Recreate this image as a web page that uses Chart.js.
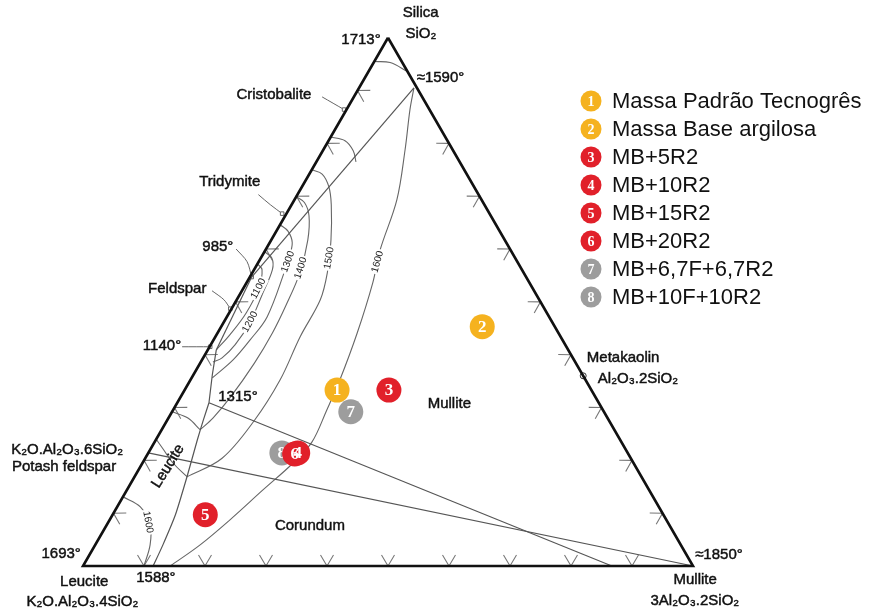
<!DOCTYPE html>
<html>
<head>
<meta charset="utf-8">
<script src="https://cdn.jsdelivr.net/npm/chart.js@4.4.0/dist/chart.umd.min.js"></script>
<style>
    body { margin: 0; background: #fff; }
    #wrap { width: 878px; height: 615px; }
</style>
</head>
<body>
<div id="wrap"><canvas id="diagram"></canvas></div>
<script>
// every point is a composition [SiO2 %, mullite %], leucite is the rest
var triangle = [[100, 0], [0, 0], [0, 100], [100, 0]];

// field boundaries
var silicaMullite = [[90.5, 9.0], [54.7, 0.3]];
var feldsparMullite = [[54.7, 0.3], [40.9, 1.4]];
var leuciteMullite = [[40.9, 1.4], [36.2, 3.1], [30.9, 5.2]];
var leuciteCorundum = [[30.9, 5.2], [27.7, 5.9], [23.9, 6.8], [16.9, 8.6], [9.7, 10.3], [4.0, 11.1], [0, 11.5]];
var corundumLine = [[30.9, 5.2], [0, 86.7]];
var feldsparJoin = [[21.4, 0], [0, 100]];

// isotherms
var topArc = [[95.5, 0], [95.3, 2.7], [93.6, 6.4]];
var cristobaliteArc = [[81.2, 0], [80.5, 2.7], [78.6, 5.0], [76.5, 6.5]];
var iso1600 = [[90.5, 9.0], [86.4, 10.4], [78.8, 13.4], [69.3, 16.8], [59.8, 18.8], [53.6, 20.7], [44.1, 22.9], [35.2, 24.5], [29.5, 25.2], [23.5, 25.8], [19.5, 24.7], [14.4, 22.3], [8.7, 19.7], [4.0, 17.2], [0, 14.3]];
var iso1600Leucite = [[13.1, 0], [11.2, 3.8], [7.8, 7.1], [4.0, 9.0], [0, 10.0]];
var iso1500 = [[75.0, 0], [74.2, 2.1], [71.8, 4.4], [68.4, 6.5], [61.7, 9.8], [55.5, 12.3], [50.4, 13.7], [43.4, 13.9], [35.2, 14.7], [27.4, 14.3], [20.4, 12.6], [16.9, 8.6]];
var iso1500Leucite = [[16.9, 8.6], [19.5, 5.0], [22.2, 2.0], [24.0, 0]];
var iso1400 = [[69.9, 0], [68.8, 1.9], [66.3, 3.9], [61.7, 6.0], [55.5, 7.8], [49.4, 8.6], [44.1, 9.0], [38.4, 8.9], [32.0, 8.2], [28.0, 7.3], [25.8, 6.3]];
var iso1400Leucite = [[25.8, 6.3], [28.0, 3.2], [29.2, 0]];
var iso1300 = [[64.6, 0], [63.4, 1.9], [61.2, 3.7], [58.3, 4.6], [56.1, 5.1], [47.2, 6.6], [42.8, 6.0], [39.0, 5.1], [35.6, 3.4]];
var iso1200 = [[59.5, 0], [58.3, 1.8], [56.1, 3.0], [51.3, 3.7], [46.2, 4.3], [41.9, 4.0], [39.4, 3.1], [38.6, 2.0]];
var iso1100 = [[57.2, 0], [56.1, 1.3], [52.7, 2.5], [47.9, 2.8], [43.8, 2.2], [40.9, 1.4]];

// pointer lines from the outside labels
var cristobalitePointer = [[88.8, -5.2], [86.4, -0.4]];
var tridymitePointer = [[70.3, -6.4], [68.4, -3.5], [66.7, -0.7]];
var eutecticPointer = [[60.0, -4.9], [57.6, -1.9], [54.7, 0.3]];
var feldsparPointer = [[52.1, -4.9], [50.4, -2.1], [48.7, -0.2]];
var pointer1140 = [[41.5, -4.5], [41.5, 0.1]];
var metakaolin = [[36.0, 64.0]];

// tick marks along the edges, % along each edge
var edgeTicks = [10, 20, 30, 40, 50, 60, 70, 80, 90];

// samples
var sampleNames = ['Massa Padrão Tecnogrês', 'Massa Base argilosa', 'MB+5R2', 'MB+10R2', 'MB+15R2', 'MB+20R2', 'MB+6,7F+6,7R2', 'MB+10F+10R2'];
var sampleSilica = [33.3, 45.3, 33.3, 21.4, 9.7, 21.2, 29.2, 21.4];
var sampleMullite = [25.0, 42.8, 33.5, 24.5, 15.2, 24.1, 29.3, 21.9];
var sampleGroup = ['base', 'base', 'R2', 'R2', 'R2', 'R2', 'FR2', 'FR2'];
var groupColours = { base: '#f5b21f', R2: '#e1202a', FR2: '#9d9d9d' };

var isoLabels = [
    ['1600', [57.6, 19.5], -74], ['1500', [58.3, 11.2], -80], ['1400', [56.4, 7.5], -72],
    ['1300', [57.6, 4.8], -70], ['1200', [46.2, 4.3], -62], ['1100', [52.5, 2.5], -62],
    ['1600', [8.3, 6.5], 80]
];

var labels = [
    ['Silica', [104.7, 3.0], 'center'], ['SiO₂', [100.8, 5.0], 'center'],
    ['1713°', [99.6, -1.0], 'right'], ['≈1590°', [92.4, 8.5], 'left'],
    ['Cristobalite', [89.2, -13.3], 'center'], ['Tridymite', [72.7, -12.3], 'center'],
    ['985°', [60.4, -8.1], 'center'], ['Feldspar', [52.5, -10.8], 'center'],
    ['1140°', [41.7, -7.9], 'center'], ['1315°', [32.0, 9.4], 'center'],
    ['K₂O.Al₂O₃.6SiO₂', [22.0, -13.6], 'center'], ['Potash feldspar', [18.8, -12.5], 'center'],
    ['Mullite', [30.7, 44.7], 'center'], ['Corundum', [7.6, 33.4], 'center'],
    ['1693°', [2.3, -1.5], 'right'], ['1588°', [-2.3, 13.1], 'center'],
    ['Leucite', [-3.0, 1.7], 'center'], ['K₂O.Al₂O₃.4SiO₂', [-6.8, 3.3], 'center'],
    ['Metakaolin', [39.4, 62.9], 'left'], ['Al₂O₃.2SiO₂', [35.4, 66.7], 'left'],
    ['≈1850°', [2.1, 99.3], 'left'], ['Mullite', [-2.7, 101.7], 'center'],
    ['3Al₂O₃.2SiO₂', [-6.6, 103.6], 'center']
];

var H = Math.sqrt(3) / 2;
function toXY(p) {
    return { x: p[1] + p[0] / 2, y: p[0] * H };
}

function lineSet(points, extra) {
    return Object.assign({
        data: points.map(toXY),
        showLine: true,
        pointRadius: 0,
        borderColor: '#555',
        borderWidth: 1.2,
        tension: 0,
        order: 5
    }, extra || {});
}

var curve = { tension: 0.35, borderColor: '#666', borderWidth: 1.1 };

function pointerSet(points) {
    var radii = points.map(function (p, i) { return i == points.length - 1 ? 2.5 : 0; });
    return lineSet(points, {
        borderColor: '#666', borderWidth: 1, tension: 0.3, pointRadius: radii,
        pointStyle: 'rect', pointBackgroundColor: '#fff', pointBorderColor: '#666'
    });
}

function sampleSet(group, order) {
    var pts = [];
    for (var i = 0; i < sampleNames.length; i++) {
        if (sampleGroup[i] == group) {
            var xy = toXY([sampleSilica[i], sampleMullite[i]]);
            pts.push({ x: xy.x, y: xy.y, id: i + 1 });
        }
    }
    return {
        data: pts, isSample: true, pointRadius: 12.5, pointBorderWidth: 0,
        backgroundColor: groupColours[group], order: order
    };
}

var datasets = [
    sampleSet('R2', 0),
    sampleSet('base', 1),
    sampleSet('FR2', 2),
    lineSet(triangle, { borderColor: '#111', borderWidth: 2.6, order: 4 }),
    lineSet(silicaMullite), lineSet(feldsparMullite), lineSet(leuciteMullite),
    lineSet(leuciteCorundum, { tension: 0.2 }), lineSet(corundumLine), lineSet(feldsparJoin),
    lineSet(topArc, curve), lineSet(cristobaliteArc, curve),
    lineSet(iso1600, curve), lineSet(iso1600Leucite, curve),
    lineSet(iso1500, curve), lineSet(iso1500Leucite, curve),
    lineSet(iso1400, curve), lineSet(iso1400Leucite, curve),
    lineSet(iso1300, curve), lineSet(iso1200, curve), lineSet(iso1100, curve),
    pointerSet(cristobalitePointer), pointerSet(tridymitePointer), pointerSet(eutecticPointer),
    pointerSet(feldsparPointer), pointerSet(pointer1140),
    lineSet(metakaolin, { showLine: false, pointRadius: 3, pointBackgroundColor: '#fff', pointBorderColor: '#333', pointBorderWidth: 1 })
];

function pix(chart, p) {
    var xy = toXY(p);
    return { x: chart.scales.x.getPixelForValue(xy.x), y: chart.scales.y.getPixelForValue(xy.y) };
}

var diagramPlugin = {
    id: 'diagramPlugin',
    beforeDatasetsDraw: function (chart) {
        var ctx = chart.ctx;
        ctx.save();
        ctx.strokeStyle = '#777';
        ctx.lineWidth = 1.1;
        // chevrons on the three edges
        var edges = [
            { at: function (f) { return [0, f]; }, n: [0, -1], t: [1, 0], skip: [] },
            { at: function (f) { return [100 - f, f]; }, n: [-0.866, 0.5], t: [0.5, 0.866], skip: [10] },
            { at: function (f) { return [f, 0]; }, n: [0.866, 0.5], t: [0.5, -0.866], skip: [] }
        ];
        edges.forEach(function (e) {
            edgeTicks.forEach(function (f) {
                if (e.skip.indexOf(f) >= 0) return;
                var v = pix(chart, e.at(f));
                ctx.beginPath();
                ctx.moveTo(v.x + 11 * e.n[0] + 6.5 * e.t[0], v.y + 11 * e.n[1] + 6.5 * e.t[1]);
                ctx.lineTo(v.x, v.y);
                ctx.lineTo(v.x + 11 * e.n[0] - 6.5 * e.t[0], v.y + 11 * e.n[1] - 6.5 * e.t[1]);
                ctx.stroke();
            });
        });
        ctx.restore();
    },
    afterDatasetDraw: function (chart, args) {
        var ds = chart.data.datasets[args.index];
        if (!ds.isSample) return;
        var ctx = chart.ctx;
        ctx.save();
        ctx.fillStyle = '#fff';
        ctx.font = 'bold 17px "Liberation Serif", "DejaVu Serif", serif';
        ctx.textAlign = 'center';
        ctx.textBaseline = 'middle';
        args.meta.data.forEach(function (el, j) {
            ctx.fillText(String(ds.data[j].id), el.x, el.y + 1);
        });
        ctx.restore();
    },
    afterDraw: function (chart) {
        var ctx = chart.ctx;
        ctx.save();
        // isotherm temperatures, on a white patch that breaks the curve
        ctx.font = '10px "Liberation Sans", Arial, sans-serif';
        ctx.textAlign = 'center';
        ctx.textBaseline = 'middle';
        isoLabels.forEach(function (l) {
            var p = pix(chart, l[1]);
            ctx.save();
            ctx.translate(p.x, p.y);
            ctx.rotate(l[2] * Math.PI / 180);
            var w = ctx.measureText(l[0]).width;
            ctx.fillStyle = '#fff';
            ctx.fillRect(-w / 2 - 1.5, -5.5, w + 3, 11);
            ctx.fillStyle = '#222';
            ctx.fillText(l[0], 0, 0);
            ctx.restore();
        });

        // names and temperatures, with a hairline stroke so they read as heavy as the scan
        ctx.font = '15px "Liberation Sans", Arial, sans-serif';
        ctx.fillStyle = '#111';
        ctx.strokeStyle = '#111';
        ctx.lineWidth = 0.45;
        labels.forEach(function (l) {
            var p = pix(chart, l[1]);
            ctx.textAlign = l[2];
            ctx.fillText(l[0], p.x, p.y);
            ctx.strokeText(l[0], p.x, p.y);
        });
        var lp = pix(chart, [18.9, 4.5]);
        ctx.save();
        ctx.translate(lp.x, lp.y);
        ctx.rotate(-58 * Math.PI / 180);
        ctx.textAlign = 'center';
        ctx.fillText('Leucite', 0, 0);
        ctx.strokeText('Leucite', 0, 0);
        ctx.restore();

        // legend
        for (var i = 0; i < sampleNames.length; i++) {
            var y = 101 + 28 * i;
            ctx.beginPath();
            ctx.arc(591, y, 10.5, 0, Math.PI * 2);
            ctx.fillStyle = groupColours[sampleGroup[i]];
            ctx.fill();
            ctx.fillStyle = '#fff';
            ctx.textAlign = 'center';
            ctx.font = 'bold 14px "Liberation Serif", "DejaVu Serif", serif';
            ctx.fillText(String(i + 1), 591, y + 1);
            ctx.fillStyle = '#111';
            ctx.textAlign = 'left';
            ctx.font = '22px "Liberation Sans", Arial, sans-serif';
            ctx.fillText(sampleNames[i], 612, y + 1);
        }
        ctx.restore();
    }
};

new Chart(document.getElementById('diagram').getContext('2d'), {
    type: 'scatter',
    data: { datasets: datasets },
    options: {
        responsive: true,
        maintainAspectRatio: false,
        devicePixelRatio: 1,
        animation: false,
        layout: { padding: 0, autoPadding: false },
        plugins: { legend: { display: false }, tooltip: { enabled: false } },
        scales: {
            x: { display: false, min: -13.607, max: 130.328 },
            y: { display: false, min: -8.033, max: 92.787 }
        }
    },
    plugins: [diagramPlugin]
});
</script>
</body>
</html>
